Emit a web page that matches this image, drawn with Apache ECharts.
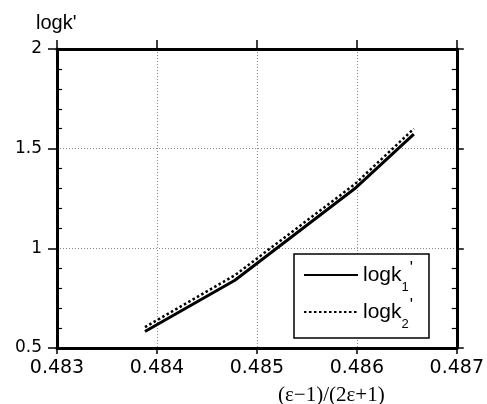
<!DOCTYPE html>
<html><head><meta charset="utf-8">
<script src="https://cdn.jsdelivr.net/npm/echarts@6/dist/echarts.min.js"></script>
<style>html,body{margin:0;padding:0;background:#fff}#c{width:487px;height:404px}</style>
</head><body><div id="c"></div>
<script>
const xValues = [0.48388, 0.48478, 0.48598, 0.48657];
const logk1 = [0.583, 0.84, 1.300, 1.573];
const logk2 = [0.605, 0.865, 1.322, 1.600];
const seriesNames = ["logk1'", "logk2'"];
const xMin = 0.483, xMax = 0.487, xStep = 0.001;
const yMin = 0.5, yMax = 2, yStep = 0.5;

const chart = echarts.init(document.getElementById('c'), null, {renderer: 'canvas'});
const axisLine = {show: true, lineStyle: {color: '#000', width: 3}};
const grid = {left: 57, right: 28, top: 49, bottom: 56};
const split = {show: true, lineStyle: {color: '#888', width: 1, type: [1, 2]}};
const hidden = {show: false};

const sub = {"logk1'": '1', "logk2'": '2'};
chart.setOption({
  animation: false,
  backgroundColor: '#fff',
  title: [
    {text: "logk'", left: 31, top: 8, textStyle: {fontFamily: 'Liberation Sans', fontSize: 20, fontWeight: 'normal', color: '#000'}},
    {text: '(ε−1)/(2ε+1)', left: 273, top: 380, textStyle: {fontFamily: 'Liberation Serif', fontSize: 21, fontWeight: 'normal', color: '#000'}}
  ],
  grid: grid,
  legend: {
    orient: 'vertical', left: 294, top: 254,
    padding: [6, 16, 7, 9], itemGap: 3,
    itemWidth: 54, itemHeight: 14,
    borderColor: '#000', borderWidth: 1.5, backgroundColor: '#fff',
    itemStyle: {opacity: 0},
    data: seriesNames,
    formatter: n => '{a|logk}{s|' + sub[n] + '}{p|\'}',
    textStyle: {
      color: '#000',
      rich: {
        a: {fontFamily: 'Liberation Sans', fontSize: 21, lineHeight: 30, verticalAlign: 'middle', color: '#000'},
        s: {fontFamily: 'Liberation Sans', fontSize: 13, lineHeight: 12, verticalAlign: 'bottom', color: '#000', padding: [0, 0, -4, 0]},
        p: {fontFamily: 'Liberation Sans', fontSize: 17, lineHeight: 14, verticalAlign: 'top', color: '#000', padding: [0, 0, 0, 1]}
      }
    }
  },
  xAxis: [
    {type: 'value', position: 'bottom', min: xMin, max: xMax, interval: xStep,
     axisLine: axisLine, axisTick: {show: true, length: 6, lineStyle: {color: '#000', width: 1.5}},
     axisLabel: {margin: 11, fontFamily: 'DejaVu Sans', fontSize: 19, color: '#000', formatter: v => v.toFixed(3)},
     splitLine: split},
    {type: 'value', position: 'top', min: xMin, max: xMax, interval: xStep,
     axisLine: axisLine, axisTick: {show: true, length: 9, lineStyle: {color: '#000', width: 1.5}},
     axisLabel: hidden, splitLine: hidden}
  ],
  yAxis: [
    {type: 'value', position: 'left', min: yMin, max: yMax, interval: yStep,
     axisLine: axisLine, axisTick: {show: true, length: 9, lineStyle: {color: '#000', width: 1.5}},
     axisLabel: {margin: 15, fontFamily: 'DejaVu Sans', fontSize: 17, color: '#000', formatter: v => String(v)},
     splitLine: split},
    {type: 'value', position: 'left', min: yMin, max: yMax, interval: yStep,
     axisLine: hidden, axisTick: {show: false, inside: true}, axisLabel: hidden, splitLine: hidden,
     minorTick: {show: true, splitNumber: 5, length: 5, lineStyle: {color: '#000', width: 1.2}}},
    {type: 'value', position: 'right', min: yMin, max: yMax, interval: yStep,
     axisLine: axisLine, axisTick: {show: true, length: 7, lineStyle: {color: '#000', width: 1.5}},
     axisLabel: hidden, splitLine: hidden},
    {type: 'value', position: 'right', min: yMin, max: yMax, interval: yStep,
     axisLine: hidden, axisTick: {show: false, inside: true}, axisLabel: hidden, splitLine: hidden,
     minorTick: {show: true, splitNumber: 5, length: 5, lineStyle: {color: '#000', width: 1.2}}}
  ],
  series: [
    {name: seriesNames[0], type: 'line', xAxisIndex: 0, yAxisIndex: 0, symbol: 'none', showSymbol: false,
     data: xValues.map((x, i) => [x, logk1[i]]),
     lineStyle: {color: '#000', width: 3, type: 'solid'}, itemStyle: {color: '#000'}},
    {name: seriesNames[1], type: 'line', xAxisIndex: 0, yAxisIndex: 0, symbol: 'none', showSymbol: false,
     data: xValues.map((x, i) => [x, logk2[i]]),
     lineStyle: {color: '#000', width: 2.5, type: [2.5, 2.5]}, itemStyle: {color: '#000'}}
  ]
});
</script>
</body></html>
